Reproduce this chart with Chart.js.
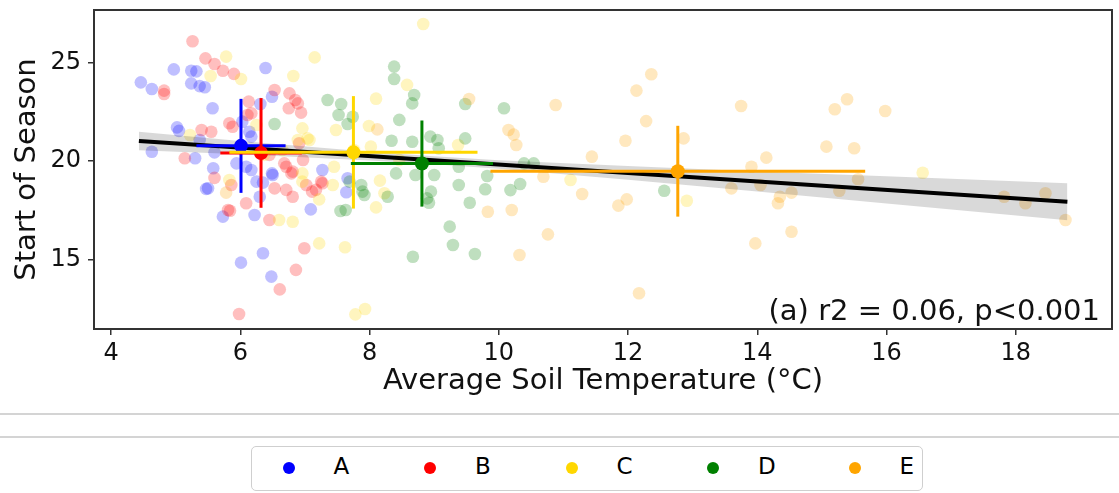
<!DOCTYPE html>
<html>
<head>
<meta charset="utf-8">
<title>Start of Season vs Average Soil Temperature</title>
<script src="https://cdn.jsdelivr.net/npm/chart.js@4.4.1/dist/chart.umd.min.js"></script>
<style>
  html, body { margin: 0; padding: 0; background: #ffffff; }
  #wrap { position: relative; width: 1119px; height: 493px; overflow: hidden; font-family: "DejaVu Sans", sans-serif; }
  #chart { position: absolute; left: 0; top: 0; }
  .rule { position: absolute; left: 0; width: 1119px; height: 0; border-top: 2px solid #d4d4d4; }
  #legend { position: absolute; left: 251px; top: 446px; width: 670px; height: 43px;
            border: 1.5px solid #cfcfcf; border-radius: 5px; }
  .dot { position: absolute; width: 12px; height: 12px; border-radius: 50%; }
  .lbl { position: absolute; font-size: 23px; line-height: 23px; color: #000; white-space: nowrap; }
</style>
</head>
<body>
<div id="wrap">
  <canvas id="chart" width="1119" height="403"></canvas>
  <div class="rule" style="top:413px"></div>
  <div class="rule" style="top:436px"></div>
  <div id="legend"></div>
</div>
<script>
// Groups and their colours
const categories = ['A', 'B', 'C', 'D', 'E'];
const colours = ['#0000ff', '#ff0000', '#ffd700', '#008000', '#ffa500'];

// Observations per group: [average soil temperature (°C), start of season]
const groupA = [
  [4.46, 24.00], [4.63, 23.66], [4.97, 24.66], [5.24, 24.59], [5.32, 24.56], [5.24, 23.95],
  [5.37, 23.81], [5.45, 23.75], [6.39, 24.73], [5.57, 22.68], [5.02, 21.71], [5.05, 21.53],
  [4.63, 20.47], [5.30, 20.14], [6.03, 22.00], [6.49, 23.27], [6.31, 22.90], [6.14, 21.49],
  [6.17, 21.24], [5.60, 20.44], [5.58, 19.63], [5.94, 19.88], [6.09, 19.71], [6.17, 19.54],
  [6.50, 19.29], [5.50, 18.61], [5.73, 17.17], [6.22, 17.25], [6.30, 18.18], [7.09, 17.54],
  [7.27, 19.54], [7.66, 19.12], [7.64, 18.41], [6.01, 14.83], [6.35, 15.31], [6.48, 14.12],
  [5.47, 18.58], [6.35, 18.90], [6.25, 18.95], [6.49, 19.37], [5.37, 21.07]
];
const groupB = [
  [5.26, 26.09], [5.46, 25.22], [5.60, 24.93], [5.73, 24.59], [5.90, 24.43], [4.82, 23.58],
  [4.82, 23.41], [6.53, 23.61], [6.76, 23.44], [6.85, 23.10], [6.89, 22.93], [6.94, 22.46],
  [6.75, 22.68], [6.13, 23.02], [6.17, 22.43], [5.88, 21.74], [5.40, 21.58], [5.55, 21.49],
  [5.14, 20.14], [5.83, 21.92], [6.11, 22.34], [6.45, 17.00], [6.09, 17.85], [5.81, 17.51],
  [6.53, 18.61], [6.71, 18.53], [6.81, 18.18], [7.02, 18.78], [7.17, 18.53], [7.25, 18.95],
  [6.81, 19.46], [6.68, 19.88], [6.97, 20.05], [6.91, 20.90], [5.84, 17.47], [6.99, 15.56],
  [6.86, 14.46], [6.61, 13.47], [5.98, 12.22], [6.79, 19.37], [7.11, 18.44], [7.27, 18.87],
  [6.71, 19.71], [6.45, 20.31], [6.30, 20.56], [5.60, 19.14], [5.86, 18.78]
];
const groupC = [
  [5.78, 25.31], [6.01, 24.17], [5.54, 24.32], [6.82, 24.32], [7.15, 25.27], [8.10, 23.17],
  [8.58, 23.87], [8.83, 26.97], [6.96, 21.66], [7.48, 21.58], [6.89, 21.07], [7.07, 21.07],
  [5.22, 21.32], [7.99, 21.78], [8.02, 20.73], [9.37, 20.81], [6.25, 21.83], [6.60, 17.00],
  [6.81, 16.91], [7.22, 15.81], [7.62, 15.61], [7.78, 12.20], [7.93, 12.47], [8.10, 17.64],
  [8.16, 19.00], [7.45, 19.71], [7.22, 18.05], [6.96, 19.37], [8.23, 18.36], [11.11, 19.03],
  [12.91, 17.98], [16.56, 19.40], [7.43, 18.78], [6.96, 18.95], [7.04, 21.15], [6.37, 20.31],
  [6.65, 20.56], [5.83, 19.03], [8.46, 20.05], [7.76, 20.56]
];
const groupD = [
  [8.38, 24.80], [8.38, 24.17], [8.69, 23.36], [8.66, 22.93], [7.35, 23.10], [7.56, 22.90],
  [7.52, 22.34], [7.74, 22.25], [7.66, 21.88], [8.46, 22.09], [8.34, 21.03], [8.66, 20.98],
  [8.94, 21.24], [9.05, 21.07], [9.07, 20.65], [9.48, 22.90], [9.48, 21.15], [10.08, 22.68],
  [9.38, 19.71], [10.39, 19.88], [10.54, 19.88], [8.41, 19.37], [8.71, 19.29], [9.00, 19.29],
  [9.38, 18.78], [8.95, 18.44], [8.89, 18.10], [8.92, 17.88], [9.55, 17.88], [9.79, 18.56],
  [9.82, 19.24], [10.18, 18.52], [10.33, 18.83], [9.24, 16.66], [9.29, 15.73], [9.63, 15.27],
  [8.67, 15.13], [7.69, 18.95], [7.63, 17.51], [7.55, 17.46], [7.89, 18.44], [7.92, 18.27],
  [8.28, 18.18], [12.56, 18.49], [6.53, 21.88], [7.87, 18.78]
];
const groupE = [
  [9.54, 23.15], [10.88, 22.85], [10.15, 21.58], [10.23, 21.34], [10.27, 20.81], [12.13, 23.58],
  [12.36, 24.41], [12.28, 22.03], [11.96, 21.03], [11.44, 20.22], [8.12, 21.61], [12.86, 21.15],
  [11.29, 18.32], [11.85, 17.73], [11.98, 18.05], [10.76, 16.27], [10.32, 15.22], [12.17, 13.27],
  [10.20, 17.51], [9.83, 17.42], [10.69, 19.20], [13.75, 22.80], [15.20, 22.63], [15.39, 23.14],
  [15.98, 22.54], [15.07, 20.73], [15.50, 20.65], [14.14, 20.17], [13.91, 19.71], [13.60, 18.61],
  [14.05, 18.78], [14.35, 18.18], [14.32, 17.85], [14.53, 18.39], [14.53, 16.40], [13.97, 15.81],
  [15.27, 18.49], [15.56, 19.07], [17.82, 18.18], [18.15, 17.85], [18.46, 18.36], [18.77, 17.00],
  [5.78, 18.39]
];
const groups = [groupA, groupB, groupC, groupD, groupE];

// Group means and spreads
const meanTemp  = [6.01, 6.32, 7.75, 8.81, 12.77];
const meanStart = [20.77, 20.41, 20.44, 19.87, 19.48];
const sdTemp    = [0.69, 0.63, 1.92, 1.10, 2.90];
const sdStart   = [2.39, 2.79, 2.86, 2.19, 2.31];

// Fitted regression line and its confidence band
const fitTemp  = [4.43, 18.80];
const fitStart = [21.02, 17.93];
const bandTemp  = [4.43, 6, 8, 9, 10, 12, 14, 16, 18.80];
const bandUpper = [21.49, 21.02, 20.47, 20.24, 20.04, 19.74, 19.47, 19.22, 18.87];
const bandLower = [20.55, 20.34, 20.03, 19.84, 19.60, 19.04, 18.45, 17.84, 16.99];

// Axis ticks and statistics label
const xTickValues = [4, 6, 8, 10, 12, 14, 16, 18];
const yTickValues = [15, 20, 25];
const statsLabel = '(a) r2 = 0.06, p<0.001';

const FONT = 'DejaVu Sans';

function withAlpha(hex, a) {
  const n = parseInt(hex.slice(1), 16);
  return `rgba(${(n >> 16) & 255}, ${(n >> 8) & 255}, ${n & 255}, ${a})`;
}

const datasets = [];

// faint scatter clouds, first group underneath
groups.forEach((pts, i) => {
  datasets.push({
    type: 'scatter',
    label: categories[i],
    data: pts.map(p => ({ x: p[0], y: p[1] })),
    backgroundColor: withAlpha(colours[i], 0.25),
    pointBackgroundColor: withAlpha(colours[i], 0.25),
    pointBorderWidth: 0,
    borderWidth: 0,
    pointRadius: 6.3,
    order: 20 - i
  });
});

// confidence band (upper fills down to lower)
datasets.push({
  type: 'line',
  label: 'band upper',
  data: bandTemp.map((x, k) => ({ x, y: bandUpper[k] })),
  borderWidth: 0,
  borderColor: 'rgba(0,0,0,0)',
  pointRadius: 0,
  fill: '+1',
  backgroundColor: 'rgba(0,0,0,0.15)',
  tension: 0,
  order: 9
});
datasets.push({
  type: 'line',
  label: 'band lower',
  data: bandTemp.map((x, k) => ({ x, y: bandLower[k] })),
  borderWidth: 0,
  borderColor: 'rgba(0,0,0,0)',
  pointRadius: 0,
  fill: false,
  tension: 0,
  order: 9
});

// regression line
datasets.push({
  type: 'line',
  label: 'fit',
  data: fitTemp.map((x, k) => ({ x, y: fitStart[k] })),
  borderColor: '#000000',
  borderWidth: 4,
  pointRadius: 0,
  fill: false,
  tension: 0,
  order: 8
});

// group means with error bars in both directions
categories.forEach((c, i) => {
  const base = 6 - i;
  datasets.push({
    type: 'line',
    label: c + ' temp spread',
    data: [{ x: meanTemp[i] - sdTemp[i], y: meanStart[i] }, { x: meanTemp[i] + sdTemp[i], y: meanStart[i] }],
    borderColor: colours[i], borderWidth: 3, pointRadius: 0, fill: false, tension: 0,
    order: base + 0.5
  });
  datasets.push({
    type: 'line',
    label: c + ' start spread',
    data: [{ x: meanTemp[i], y: meanStart[i] - sdStart[i] }, { x: meanTemp[i], y: meanStart[i] + sdStart[i] }],
    borderColor: colours[i], borderWidth: 3, pointRadius: 0, fill: false, tension: 0,
    order: base + 0.5
  });
  datasets.push({
    type: 'scatter',
    label: c + ' mean',
    data: [{ x: meanTemp[i], y: meanStart[i] }],
    backgroundColor: colours[i],
    pointBackgroundColor: colours[i],
    pointBorderWidth: 0,
    pointRadius: 7,
    order: base
  });
});

// axes frame on all four sides plus the statistics label
const framePlugin = {
  id: 'frame',
  afterDatasetsDraw(chart) {
    const { ctx, chartArea: a } = chart;
    ctx.save();
    ctx.strokeStyle = '#333333';
    ctx.lineWidth = 2;
    ctx.strokeRect(a.left, a.top, a.right - a.left, a.bottom - a.top);
    ctx.fillStyle = '#111111';
    ctx.font = `29px "${FONT}"`;
    ctx.textAlign = 'right';
    ctx.textBaseline = 'alphabetic';
    ctx.fillText(statsLabel, a.right - 12, a.bottom - 9);
    ctx.restore();
  }
};

const tickGrid = {
  display: true, drawOnChartArea: false, drawTicks: true,
  tickLength: 6, color: '#333333', lineWidth: 1.5
};

new Chart(document.getElementById('chart'), {
  type: 'scatter',
  data: { datasets },
  options: {
    responsive: false,
    animation: false,
    events: [],
    layout: { padding: { left: 6, top: 10, right: 4, bottom: 0 } },
    plugins: { legend: { display: false }, tooltip: { enabled: false } },
    scales: {
      x: {
        type: 'linear', min: 3.735, max: 19.49,
        afterBuildTicks: s => { s.ticks = xTickValues.map(v => ({ value: v })); },
        afterFit: s => { s.height = 74; s.paddingLeft = 0; s.paddingRight = 0; },
        grid: tickGrid,
        border: { display: false },
        ticks: { font: { family: FONT, size: 24 }, color: '#111111', padding: 4, maxRotation: 0, autoSkip: false },
        title: { display: true, text: 'Average Soil Temperature (°C)', font: { family: FONT, size: 29 }, color: '#111111', padding: { top: 4, bottom: 4 } }
      },
      y: {
        type: 'linear', min: 11.455, max: 27.68,
        afterBuildTicks: s => { s.ticks = yTickValues.map(v => ({ value: v })); },
        afterFit: s => { s.width = 88; s.paddingTop = 0; s.paddingBottom = 0; },
        grid: tickGrid,
        border: { display: false },
        ticks: { font: { family: FONT, size: 24 }, color: '#111111', padding: 7, autoSkip: false },
        title: { display: true, text: 'Start of Season', font: { family: FONT, size: 29 }, color: '#111111', padding: { top: 4, bottom: 4 } }
      }
    }
  },
  plugins: [framePlugin]
});

// legend row below the plot
const legend = document.getElementById('legend');
categories.forEach((c, i) => {
  const cx = 36.5 + 141.5 * i;
  const dot = document.createElement('div');
  dot.className = 'dot';
  dot.style.left = (cx - 6) + 'px';
  dot.style.top = (20.5 - 6) + 'px';
  dot.style.background = colours[i];
  legend.appendChild(dot);
  const lbl = document.createElement('div');
  lbl.className = 'lbl';
  lbl.style.left = (cx + 45) + 'px';
  lbl.style.top = '8px';
  lbl.textContent = c;
  legend.appendChild(lbl);
});
</script>
</body>
</html>
